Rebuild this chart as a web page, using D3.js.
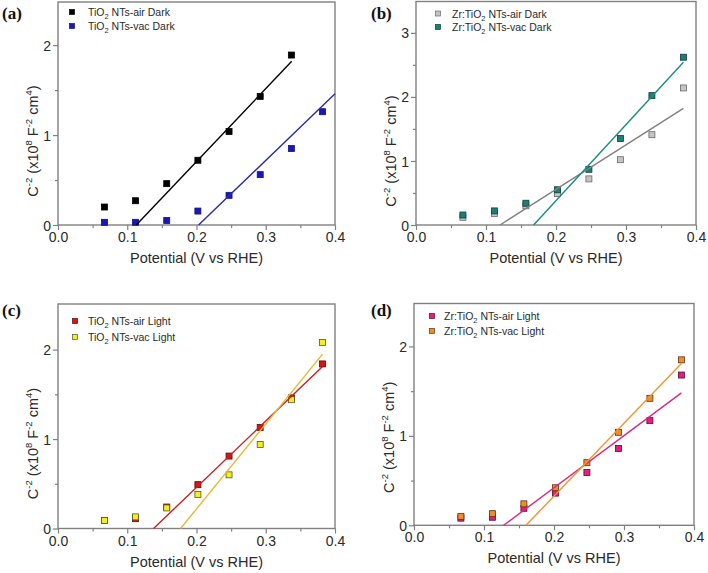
<!DOCTYPE html>
<html><head><meta charset="utf-8">
<script src="https://cdn.jsdelivr.net/npm/d3@7"></script>
<style>body{margin:0;background:#fff}svg{display:block}</style>
</head><body>
<svg id="chart" width="708" height="573"></svg>
<script>
// ---- data ----
const xValues = [0.067, 0.112, 0.157, 0.202, 0.247, 0.292, 0.337, 0.382];
const xTicks = [0, 0.1, 0.2, 0.3, 0.4];
const xMinorTicks = [0.05, 0.15, 0.25, 0.35];
const panelLabels = ["(a)", "(b)", "(c)", "(d)"];

const tio2AirDark = [0.20, 0.27, 0.46, 0.72, 1.04, 1.43, 1.89];
const tio2VacDark = [0.03, 0.03, 0.05, 0.155, 0.33, 0.56, 0.85, 1.26];
const zrAirDark = [0.12, 0.18, 0.30, 0.49, 0.72, 1.02, 1.41, 2.14];
const zrVacDark = [0.156, 0.22, 0.34, 0.55, 0.87, 1.35, 2.02, 2.62];
const tio2AirLight = [0.09, 0.11, 0.24, 0.49, 0.81, 1.13, 1.46, 1.84];
const tio2VacLight = [0.09, 0.13, 0.23, 0.38, 0.60, 0.94, 1.44, 2.08];
const zrAirLight = [0.08, 0.09, 0.19, 0.36, 0.59, 0.86, 1.17, 1.68];
const zrVacLight = [0.10, 0.13, 0.24, 0.42, 0.70, 1.04, 1.42, 1.85];

const fitTio2AirDark = [[0.113, 0], [0.3375, 1.82]];
const fitTio2VacDark = [[0.203, 0], [0.4, 1.46]];
const fitZrAirDark = [[0.12, 0], [0.382, 1.82]];
const fitZrVacDark = [[0.168, 0], [0.382, 2.54]];
const fitTio2AirLight = [[0.138, 0], [0.382, 1.81]];
const fitTio2VacLight = [[0.177, 0], [0.382, 1.95]];
const fitZrAirLight = [[0.128, 0], [0.382, 1.48]];
const fitZrVacLight = [[0.160, 0], [0.382, 1.81]];

const yTicksA = [0, 1, 2];
const yTicksB = [0, 1, 2, 3];
const yMinorA = [0.5, 1.5];
const yMinorB = [0.5, 1.5, 2.5];

// ---- layout / style ----
const panels = [
  {label: panelLabels[0], left: 58, right: 335, top: 2, bottom: 225, ymax: 2.48,
   yTicks: yTicksA, yMinor: yMinorA, labelX: 2, labelY: 19, tickOff: 17, yTitleOff: 84,
   legend: {mx: 72, my: 12, tx: 88, dy: 14},
   series: [
     {name: "TiO", sub: "2", rest: " NTs-air Dark", vals: tio2AirDark, fit: fitTio2AirDark, fill: "#000000", stroke: "#000000", line: "#000000"},
     {name: "TiO", sub: "2", rest: " NTs-vac Dark", vals: tio2VacDark, fit: fitTio2VacDark, fill: "#1818b8", stroke: "#10108a", line: "#2a2aa8"}
   ]},
  {label: panelLabels[1], left: 416, right: 696, top: 1.5, bottom: 225, ymax: 3.49,
   yTicks: yTicksB, yMinor: yMinorB, labelX: 371, labelY: 19, tickOff: 17, yTitleOff: 74,
   legend: {mx: 438, my: 13.5, tx: 452, dy: 13.5},
   series: [
     {name: "Zr:TiO", sub: "2", rest: " NTs-air Dark", vals: zrAirDark, fit: fitZrAirDark, fill: "#c4c4c4", stroke: "#6a6a6a", line: "#808080"},
     {name: "Zr:TiO", sub: "2", rest: " NTs-vac Dark", vals: zrVacDark, fit: fitZrVacDark, fill: "#1d7f72", stroke: "#0f3f38", line: "#1a8c80"}
   ]},
  {label: panelLabels[2], left: 58, right: 335, top: 304, bottom: 528.5, ymax: 2.51,
   yTicks: yTicksA, yMinor: yMinorA, labelX: 2, labelY: 316, tickOff: 17, yTitleOff: 85,
   legend: {mx: 75, my: 321, tx: 88, dy: 16},
   series: [
     {name: "TiO", sub: "2", rest: " NTs-air Light", vals: tio2AirLight, fit: fitTio2AirLight, fill: "#d81414", stroke: "#5a0a0a", line: "#c82020"},
     {name: "TiO", sub: "2", rest: " NTs-vac Light", vals: tio2VacLight, fit: fitTio2VacLight, fill: "#f2ee22", stroke: "#555530", line: "#e8b838"}
   ]},
  {label: panelLabels[3], left: 414, right: 694, top: 303.5, bottom: 525.3, ymax: 2.48,
   yTicks: yTicksA, yMinor: yMinorA, labelX: 371, labelY: 316, tickOff: 17, yTitleOff: 88,
   legend: {mx: 432, my: 316, tx: 444, dy: 15},
   series: [
     {name: "Zr:TiO", sub: "2", rest: " NTs-air Light", vals: zrAirLight, fit: fitZrAirLight, fill: "#e0207a", stroke: "#5a0a30", line: "#d42a80"},
     {name: "Zr:TiO", sub: "2", rest: " NTs-vac Light", vals: zrVacLight, fit: fitZrVacLight, fill: "#f28c2a", stroke: "#5a3510", line: "#f0962e"}
   ]}
];

const svg = d3.select("#chart");
const axisColor = "#808080";
const font = "'Liberation Sans', Arial, Helvetica, sans-serif";
const textColor = "#2a2a2a";
const ms = 6;

panels.forEach(p => {
  const g = svg.append("g");
  const x = d3.scaleLinear().domain([0, 0.4]).range([p.left, p.right]);
  const y = d3.scaleLinear().domain([0, p.ymax]).range([p.bottom, p.top]);

  g.append("rect").attr("x", p.left).attr("y", p.top)
    .attr("width", p.right - p.left).attr("height", p.bottom - p.top)
    .attr("fill", "none").attr("stroke", axisColor).attr("stroke-width", 1.4);

  const xAxis = d3.axisBottom(x).tickValues(xTicks).tickFormat(d3.format(".1f")).tickSize(5).tickPadding(3);
  const xg = g.append("g").attr("transform", `translate(0,${p.bottom})`).call(xAxis);
  const xMin = d3.axisBottom(x).tickValues(xMinorTicks).tickFormat("").tickSize(3);
  const xmg = g.append("g").attr("transform", `translate(0,${p.bottom})`).call(xMin);
  const yAxis = d3.axisLeft(y).tickValues(p.yTicks).tickFormat(d3.format("d")).tickSize(5).tickPadding(2);
  const yg = g.append("g").attr("transform", `translate(${p.left},0)`).call(yAxis);
  const yMin = d3.axisLeft(y).tickValues(p.yMinor).tickFormat("").tickSize(3);
  const ymg = g.append("g").attr("transform", `translate(${p.left},0)`).call(yMin);
  [xg, xmg, yg, ymg].forEach(a => {
    a.select(".domain").remove();
    a.selectAll("line").attr("stroke", axisColor).attr("stroke-width", 1.2);
    a.selectAll("text").attr("font-family", font).attr("font-size", 14).attr("fill", textColor);
  });
  xg.selectAll("text").attr("dy", null).attr("y", p.tickOff);
  yg.selectAll("text").attr("dy", "0.36em");

  g.append("text").attr("x", (p.left + p.right) / 2).attr("y", p.bottom + 38)
    .attr("text-anchor", "middle").attr("font-family", font).attr("font-size", 14.5)
    .attr("fill", textColor).text("Potential (V vs RHE)");
  const yt = g.append("text")
    .attr("transform", `translate(${p.left - 20},${p.bottom - p.yTitleOff}) rotate(-90)`)
    .attr("text-anchor", "middle").attr("font-family", font).attr("font-size", 14.5).attr("fill", textColor);
  const parts = [["C", 0], ["-2", 1], [" (x10", 0], ["8", 1], [" F", 0], ["-2", 1], [" cm", 0], ["4", 1], [")", 0]];
  let prevSup = false;
  parts.forEach(([t, sup]) => {
    const ts = yt.append("tspan").text(t);
    if (sup) ts.attr("font-size", 9.5);
    if (sup && !prevSup) ts.attr("dy", -6);
    else if (!sup && prevSup) ts.attr("dy", 6);
    prevSup = !!sup;
  });

  svg.append("text").attr("x", p.labelX).attr("y", p.labelY)
    .attr("font-family", "'Liberation Serif', 'Times New Roman', serif").attr("font-weight", "bold")
    .attr("font-size", 17).attr("fill", "#111").text(p.label);

  p.series.forEach(s => {
    const pts = s.vals.map((v, i) => [xValues[i], v]);
    g.append("g").selectAll("rect").data(pts).join("rect")
      .attr("x", d => x(d[0]) - ms / 2).attr("y", d => y(d[1]) - ms / 2)
      .attr("width", ms).attr("height", ms)
      .attr("fill", s.fill).attr("stroke", s.stroke).attr("stroke-width", 0.8);
  });
  p.series.forEach(s => {
    g.append("path").datum(s.fit)
      .attr("d", d3.line().x(d => x(d[0])).y(d => y(d[1])))
      .attr("fill", "none").attr("stroke", s.line).attr("stroke-width", 1.4);
  });

  p.series.forEach((s, si) => {
    const ly = p.legend.my + si * p.legend.dy;
    g.append("rect").attr("x", p.legend.mx - 2.5).attr("y", ly - 2.5).attr("width", 5).attr("height", 5)
      .attr("fill", s.fill).attr("stroke", s.stroke).attr("stroke-width", 0.7);
    const t = g.append("text").attr("x", p.legend.tx).attr("y", ly + 4)
      .attr("font-family", font).attr("font-size", 10.5).attr("fill", textColor);
    t.append("tspan").text(s.name);
    t.append("tspan").text(s.sub).attr("font-size", 7.5).attr("dy", 3);
    t.append("tspan").text(s.rest).attr("dy", -3);
  });
});
</script>
</body></html>
